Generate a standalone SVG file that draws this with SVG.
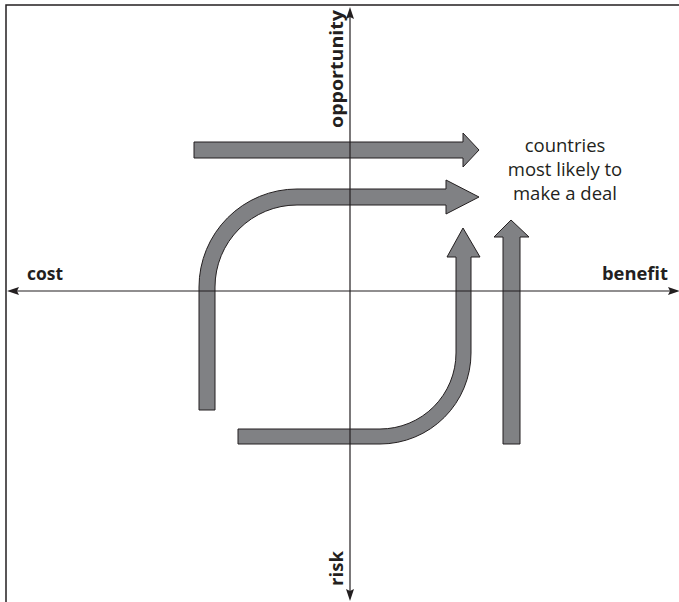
<svg xmlns="http://www.w3.org/2000/svg" width="679" height="602" viewBox="0 0 679 602">
<defs>
<style>
.arrow{fill:#808184;stroke:#231f20;stroke-width:1;stroke-linejoin:miter}
.axis{stroke:#231f20;stroke-width:1.2;fill:none}
.head{fill:#231f20}
.lbl{font-family:"Open Sans","Liberation Sans",sans-serif;font-weight:bold;font-size:18.5px;fill:#231f20}
.note{font-family:"Open Sans","Liberation Sans",sans-serif;font-size:18.5px;fill:#231f20;text-anchor:middle}
</style>
</defs>
<rect x="6" y="5" width="700" height="700" fill="#ffffff" stroke="#231f20" stroke-width="1.5"/>
<g id="arrows">
<path id="arrow-straight-right" class="arrow" d="M194,142 H463 V133 L479,150 L463,167 V158 H194 Z"/>
<path id="arrow-curve-right" class="arrow" d="M199,410 V287 A98,98 0 0 1 297,189 H446 V180 L479,197 L446,214 V205 H297 A82,82 0 0 0 215,287 V410 Z"/>
<path id="arrow-curve-up" class="arrow" d="M238,429 H380 A76,76 0 0 0 456,353 V257 H447 L463,228 L480,257 H471 V353 A91,91 0 0 1 380,444 H238 Z"/>
<path id="arrow-straight-up" class="arrow" d="M503,444 V237 H494 L511,220 L529,237 H520 V444 Z"/>
</g>
<g id="axes">
<line class="axis" x1="350" y1="16" x2="350" y2="592"/>
<path class="head" d="M350,7 L354,19 L350,17 L346,19 Z"/>
<path class="head" d="M350,601 L354,589 L350,591 L346,589 Z"/>
<line class="axis" x1="16" y1="291" x2="670" y2="291"/>
<path class="head" d="M7,291 L19,287 L17,291 L19,295 Z"/>
<path class="head" d="M680,291 L668,287 L670,291 L668,295 Z"/>
</g>
<g id="labels">
<text class="lbl" x="27" y="280" textLength="36" lengthAdjust="spacingAndGlyphs">cost</text>
<text class="lbl" x="602" y="280" textLength="66" lengthAdjust="spacingAndGlyphs">benefit</text>
<text class="lbl" transform="translate(343,128) rotate(-90)" textLength="118" lengthAdjust="spacingAndGlyphs">opportunity</text>
<text class="lbl" transform="translate(343,586) rotate(-90)" textLength="35" lengthAdjust="spacingAndGlyphs">risk</text>
</g>
<g id="note">
<text class="note" x="565" y="152">countries</text>
<text class="note" x="565" y="176">most likely to</text>
<text class="note" x="565" y="200">make a deal</text>
</g>
</svg>
